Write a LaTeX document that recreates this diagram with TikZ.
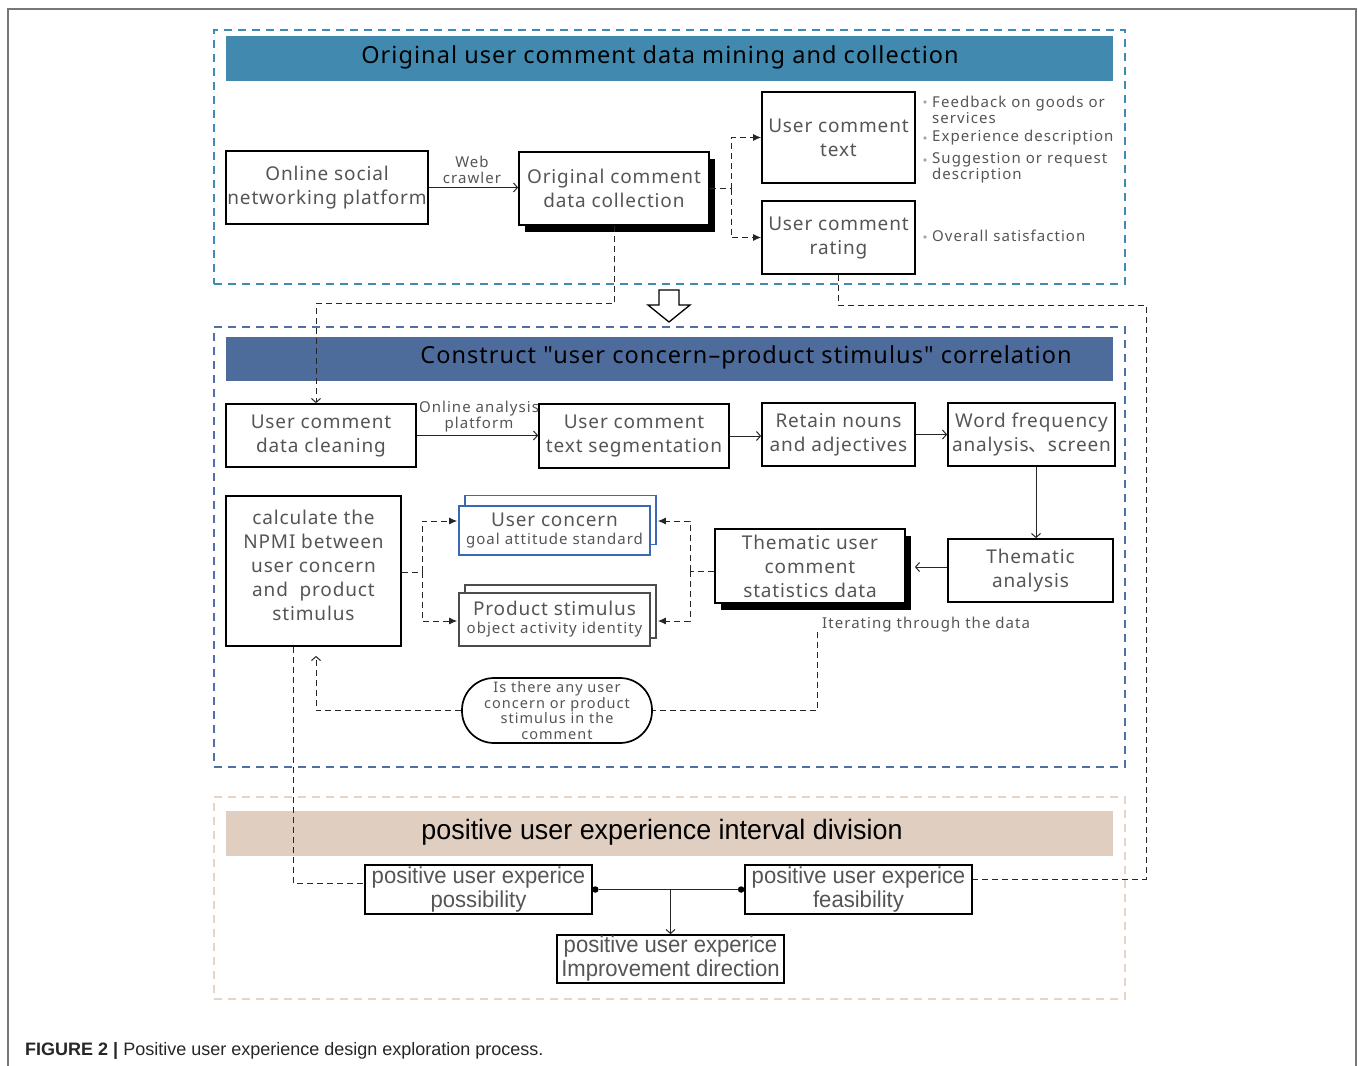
\documentclass[tikz,border=0pt]{standalone}
\usepackage{fontspec}
\setmainfont[LetterSpace=4.5]{Noto Sans}
\newfontfamily\lblfam[LetterSpace=7]{Noto Sans}
\newfontfamily\plainq[LetterSpace=4.5, Ligatures=TeXOff]{Noto Sans}
\newfontfamily\cjkf{Noto Sans CJK SC}
\newfontfamily\capfont{Liberation Sans}
\newfontfamily\condfont[FakeStretch=0.96]{Liberation Sans}
\usetikzlibrary{shadows,arrows.meta}

\definecolor{secA}{HTML}{3E8BB5}
\definecolor{barA}{HTML}{4189AE}
\definecolor{secB}{HTML}{4F6FA6}
\definecolor{barB}{HTML}{4D6C9C}
\definecolor{secC}{HTML}{E8D3C4}
\definecolor{barC}{HTML}{E0CEC0}
\definecolor{txtgray}{HTML}{555555}
\definecolor{concernblue}{HTML}{3B68B2}
\definecolor{framegray}{HTML}{777777}

\newcommand\bxf{\fontsize{19}{24}\selectfont}
\newcommand\lblf{\lblfam\fontsize{15}{16}\selectfont}
\newcommand\ttlf{\fontsize{23.5}{28}\selectfont}

\tikzset{
  box/.style={draw=black, line width=1.7pt, fill=white, text=txtgray, align=center,
    font=\bxf, inner sep=0pt},
  shadowbox/.style={box, drop shadow={shadow xshift=6pt, shadow yshift=-7pt, fill=black, opacity=1}},
  condbox/.style={box, font=\condfont\fontsize{23}{24}\selectfont},
  lbl/.style={text=txtgray, font=\lblf, align=center, inner sep=0pt},
  bul/.style={text=txtgray, font=\lblf, align=left, inner sep=0pt, anchor=west},
  bdot/.style={circle, fill=black!35, inner sep=0pt, minimum size=3.6pt},
  secbox/.style={line width=1.8pt, dash pattern=on 8pt off 6pt, minimum width=911},
  bar/.style={minimum width=887, inner sep=0pt},
  ttl/.style={font=\ttlf, text=black, inner sep=0pt},
  conn/.style={draw=black!85, line width=1pt},
  dconn/.style={conn, dash pattern=on 6pt off 4pt},
  open/.style={-{Straight Barb[length=4pt,width=9pt]}},
  solid tip/.style={-{Latex[length=8pt,width=7pt]}},
}

\begin{document}
\begin{tikzpicture}[x=1pt,y=-1pt]
\useasboundingbox (0,0) rectangle (1358,1066);

% figure frame
\draw[framegray, line width=1.4pt] (8,1066) -- (8,9) -- (1356,9) -- (1356,1066);

% ---------- section 1 ----------
\node[secbox, draw=secA, minimum height=254] (s1) at (669.5,157) {};
\node[bar, fill=barA, minimum height=45] (b1) at (669.5,58.5) {};
\node[ttl] (t1) at (660,57) {Original user comment data mining and collection};

\node[box, minimum width=202, minimum height=73] (social) at (327,187.5) {Online social\\networking platform};
\node[shadowbox, minimum width=190, minimum height=73] (collect) at (614,188.5) {Original comment\\data collection};
\node[box, minimum width=153, minimum height=91] (utext) at (838.5,137.5) {User comment\\text};
\node[box, minimum width=153, minimum height=73] (urating) at (838.5,237.5) {User comment\\rating};

\node[lbl] (web) at (472,170) {Web\\crawler};

\node[bdot] (d1) at (925,102) {};
\node[bul] (u1) at (932,110) {Feedback on goods or\\services};
\node[bdot] (d2) at (925,138) {};
\node[bul] (u2) at (932,138) {Experience description};
\node[bdot] (d3) at (925,160) {};
\node[bul] (u3) at (932,167.5) {Suggestion or request\\description};
\node[bdot] (d4) at (925,237) {};
\node[bul] (u4) at (932,236) {Overall satisfaction};

\draw[conn, open] (social.east) -- (social.east -| collect.west);
\coordinate (fa) at (731,188.5);
\draw[dconn] (collect.east) -- (fa);
\draw[dconn, solid tip] (fa) |- (utext.west);
\draw[dconn, solid tip] (fa) |- (urating.west);

% hollow arrow between sections
\draw[line width=1.3pt, fill=white] (659,290) -- (679,290) -- (679,305) -- (690,305)
  -- (669,322) -- (648,305) -- (659,305) -- cycle;

% ---------- section 2 ----------
\node[secbox, draw=secB, minimum height=440] (s2) at (669.5,547) {};
\node[bar, fill=barB, minimum height=44] (b2) at (669.5,359) {};
\node[ttl, font=\plainq\ttlf] (t2) at (746,357) {Construct "user concern{\char"2013}product stimulus" correlation};

\node[box, minimum width=190, minimum height=63] (clean) at (321,435.5) {User comment\\data cleaning};
\node[box, minimum width=190, minimum height=64] (seg) at (634,436) {User comment\\text segmentation};
\node[box, minimum width=153, minimum height=63] (retain) at (838.5,434.5) {Retain nouns\\and adjectives};
\node[box, minimum width=167, minimum height=63] (wordfreq) at (1031.5,434.5) {Word frequency\\analysis{\cjkf 、}screen};
\node[box, minimum width=165, minimum height=63] (thematic) at (1030.5,570.5) {Thematic\\analysis};
\node[shadowbox, minimum width=190, minimum height=74] (stats) at (810,566) {Thematic user\\comment\\statistics data};

\node[box, draw=concernblue, line width=1.6pt, minimum width=191, minimum height=49,
  copy shadow={shadow xshift=6pt, shadow yshift=10.5pt}] (concern) at (554.5,530.5)
  {User concern\\[-6pt]{\lblf goal attitude standard}};
\node[box, draw=black!70, line width=1.6pt, minimum width=191, minimum height=53,
  copy shadow={shadow xshift=6pt, shadow yshift=8pt}] (stimulus) at (554.5,619.5)
  {Product stimulus\\[-6pt]{\lblf object activity identity}};

\node[box, minimum width=175, minimum height=150] (npmi) at (313.5,571)
  {calculate the\\NPMI between\\user concern\\and~~product\\stimulus\\[-12pt]};

\node[box, rounded corners=32pt, minimum width=190, minimum height=65,
  font=\lblfam\fontsize{14.5}{15.6}\selectfont] (oval) at (557,710.5)
  {Is there any user\\concern or product\\stimulus in the\\comment};

\node[lbl] (onl) at (479,417) {Online analysis\\platform};
\node[lbl, anchor=west] (iter) at (822,625) {Iterating through the data};

\draw[dconn, open] (collect.south) -- ++(0,78) -| ([xshift=-5pt]clean.north);
\draw[conn, open] (clean.east) -- (clean.east -| seg.west);
\draw[conn, open] (seg.east) -- (seg.east -| retain.west);
\draw[conn, open] (retain.east) -- (retain.east -| wordfreq.west);
\draw[conn, open] ([xshift=4.5pt]wordfreq.south) -- ([xshift=4.5pt]wordfreq.south |- thematic.north);
\draw[conn, open] ([yshift=3.5pt]thematic.west) -- ([xshift=9pt,yshift=3.5pt]thematic.west -| stats.east);

\coordinate (fb) at (690,571);
\draw[dconn] ([yshift=-5pt]stats.west) -- (fb);
\draw[dconn, solid tip] (fb) |- ([xshift=7pt,yshift=9.5pt]concern.east);
\draw[dconn, solid tip] (fb) |- ([xshift=7pt,yshift=-1.5pt]stimulus.east);

\coordinate (fc) at (422,572);
\draw[dconn] ([yshift=-1pt]npmi.east) -- (fc);
\draw[dconn, solid tip] (fc) |- ([xshift=-1pt,yshift=9.5pt]concern.west);
\draw[dconn, solid tip] (fc) |- ([xshift=-1pt,yshift=-1.5pt]stimulus.west);

\coordinate (it) at (817,632);
\draw[dconn] (it) |- (oval.east);
\draw[dconn, open] (oval.west) -| ([xshift=2.5pt,yshift=-9pt]npmi.south);

% ---------- section 3 ----------
\node[secbox, draw=secC, minimum height=202] (s3) at (669.5,898) {};
\node[bar, fill=barC, minimum height=45] (b3) at (669.5,833.5) {};
\node[inner sep=0pt, font=\condfont\fontsize{28}{30}\selectfont] (t3) at (662,832)
  {positive user experience interval division};

\node[condbox, minimum width=227, minimum height=49] (possib) at (478.5,889.5) {positive user experice\\possibility};
\node[condbox, minimum width=227, minimum height=49] (feas) at (858.5,889.5) {positive user experice\\feasibility};
\node[condbox, minimum width=227, minimum height=48] (improve) at (670.5,959) {positive user experice\\Improvement direction};

\node[circle, fill=black, inner sep=0pt, minimum size=6.5pt] (dl) at ([xshift=2.5pt]possib.east) {};
\node[circle, fill=black, inner sep=0pt, minimum size=6.5pt] (dr) at ([xshift=-3pt]feas.west) {};
\draw[conn] (dl) -- (dr);
\draw[conn, open] (improve.north |- dl) -- (improve.north);

% links reaching into section 3
\coordinate (rt) at (1146,305);
\draw[dconn] (urating.south) |- (rt) |- ([yshift=10.5pt]feas.east);
\draw[dconn] ([xshift=-20.5pt]npmi.south) |- ([yshift=6.5pt]possib.west);

% caption
\node[anchor=base west, inner sep=0pt, font=\capfont\fontsize{18}{20}\selectfont, text=black!85] (cap) at (25,1055)
  {\textbf{FIGURE 2 |} Positive user experience design exploration process.};
\end{tikzpicture}
\end{document}
